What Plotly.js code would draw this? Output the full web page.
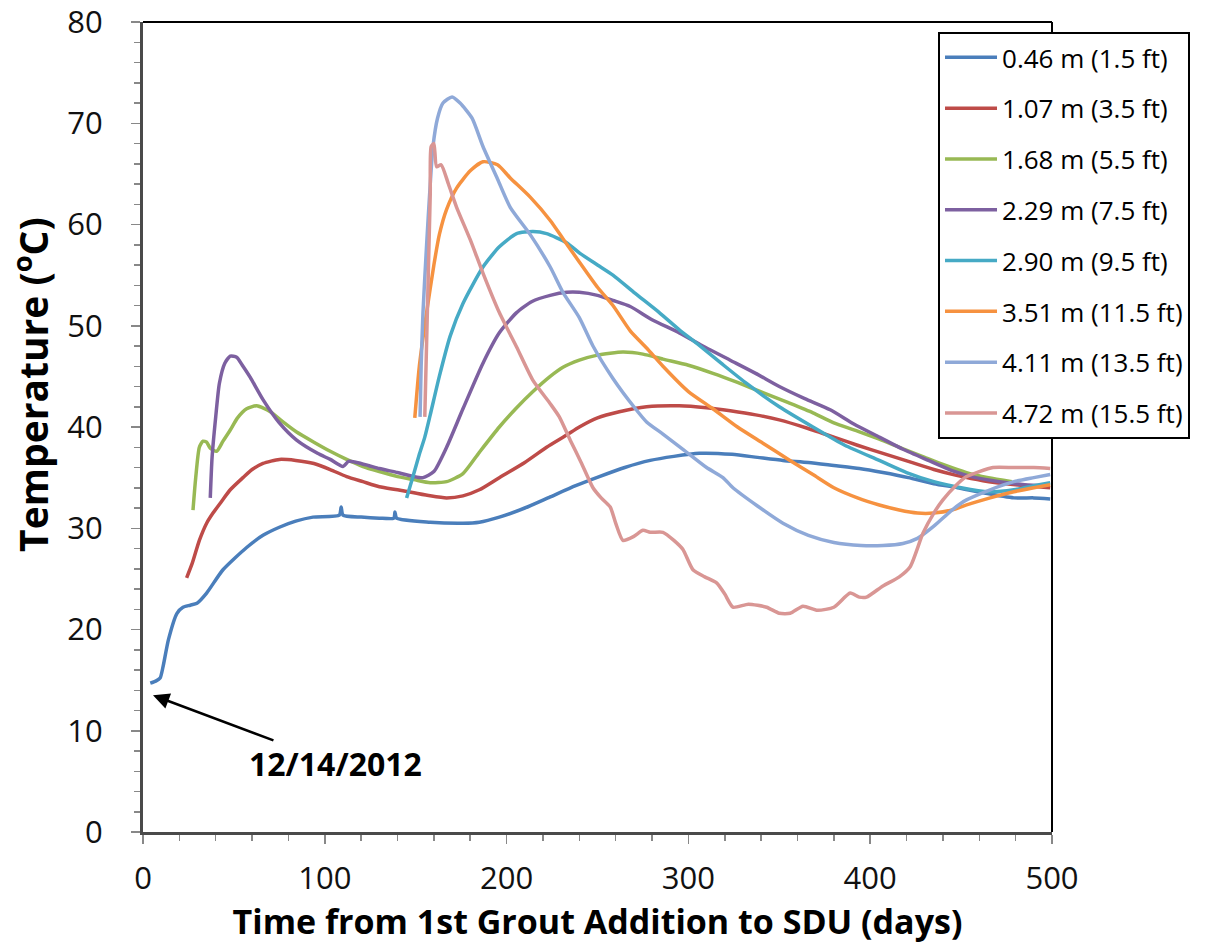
<!DOCTYPE html>
<html>
<head>
<meta charset="utf-8">
<script src="https://cdn.plot.ly/plotly-3.0.1.min.js"></script>
<style>html,body{margin:0;padding:0;background:#fff;}#chart{width:1220px;height:944px;}</style>
</head>
<body>
<div id="chart"></div>
<script>
// Series names
const seriesNames = ["0.46 m (1.5 ft)","1.07 m (3.5 ft)","1.68 m (5.5 ft)","2.29 m (7.5 ft)","2.90 m (9.5 ft)","3.51 m (11.5 ft)","4.11 m (13.5 ft)","4.72 m (15.5 ft)"];

// 0.46 m
const d046 = [4,7,9.4,11,14,18.7,22,26,29.7,35,44,57,66,75,84,93.5,108,109,110,120,130,138,138.6,139.5,158,176,185,196,210,224,238,251,265,279,292,306,324,338,352,366,380,394,407,421,435,448,462,479,490,499];
const t046 = [14.7,14.9,15.2,16.3,19,21.6,22.2,22.4,22.6,23.6,25.9,28.1,29.3,30.1,30.7,31.1,31.3,32.1,31.3,31.1,31.0,31.0,31.6,31.0,30.6,30.5,30.6,31.1,32.0,33.1,34.2,35.1,36.0,36.7,37.1,37.4,37.3,37.0,36.7,36.5,36.2,35.9,35.5,35.0,34.4,34.0,33.5,33.0,33.0,32.9];

// 1.07 m
const d107 = [24,27,31,35,38.5,43,48,55,60,66,75,84,94,103,112,121,130,140,149,158,167,176,185,196,210,222,233,240,250,262,277,295,310,323,337,350,365,380,393,407,421,435,448,462,480,499];
const t107 = [25.1,26.5,28.8,30.5,31.5,32.6,33.8,35.0,35.8,36.4,36.8,36.7,36.4,35.8,35.1,34.6,34.1,33.8,33.5,33.2,33.0,33.2,33.8,35.0,36.5,38.0,39.2,40.0,40.9,41.5,42.0,42.1,41.9,41.6,41.2,40.7,39.9,39.0,38.2,37.4,36.6,35.8,35.2,34.7,34.3,34.0];

// 1.68 m
const d168 = [27.5,29,31,33,35,37,40.5,44,48,52,57,62.5,70,77,84.5,94,103,112,121,130,140,149,158,167,176,185,196,205,214.5,224,231,240,250,264,275,286,300,313.5,327,341,355,368.5,380,393,405,416,430,440,453,465,478];
const t168 = [31.8,35,38.0,38.6,38.5,37.9,37.6,38.6,39.7,40.9,41.8,42.1,41.5,40.5,39.5,38.5,37.6,36.8,36.1,35.6,35.1,34.8,34.5,34.6,35.4,37.5,40.0,41.8,43.5,45.0,45.9,46.6,47.1,47.4,47.2,46.7,46.1,45.3,44.4,43.4,42.4,41.4,40.4,39.6,38.8,38.0,37.0,36.3,35.5,35.0,34.6];

// 2.29 m
const d229 = [37,38,40,42,45,48,51.5,55,59,66,75,84.5,96,103,110,113,117.5,124,130,140,149,154,160,167,176,187,196,205.5,214,224,233,240,250,258.5,268,280,295,309,323,337,350,364,378,391,405,418,432,445,458,471,485,497];
const t229 = [33.0,37,41,44.3,46.3,47.0,46.9,46.0,44.9,42.7,40.4,38.7,37.4,36.8,36.1,36.6,36.5,36.2,35.9,35.5,35.1,35.0,35.6,38.0,41.8,46.3,49.3,51.3,52.4,53.0,53.3,53.3,53.0,52.5,51.9,50.6,49.3,47.9,46.6,45.3,44.0,42.8,41.7,40.3,39.0,37.8,36.7,35.7,35.0,34.6,34.3,34.2];

// 2.90 m
const d290 = [145,148.5,152,155,158,163,169,176,187,196,205.5,214.5,222,233,240,250,258.5,270,284,295,305,318,332,350,368.5,386,405,420,435,450,465,479,490,499];
const t290 = [33.0,35.1,37.3,39.0,41.2,45.0,49.0,52.2,55.8,57.8,59.1,59.3,59.1,58.2,57.2,56.0,55.0,53.3,51.3,49.6,48.2,46.3,44.3,42.0,40.0,38.2,36.7,35.5,34.6,34.0,33.6,33.8,34.2,34.5];

// 3.51 m
const d351 = [149.5,152,156,160,163,167,172.5,180,187,195,202,213,224,231,240,250,258.5,268,277,286,300,313.5,327,341,355,368.5,380,393,405,416,426,435,445,453,466,479,490,499];
const t351 = [40.9,46,51.3,56.0,59.0,61.5,63.6,65.3,66.2,65.9,64.6,62.7,60.4,58.6,56.3,53.8,52.0,49.5,47.8,46.0,43.5,41.8,40.0,38.4,36.8,35.3,34.0,33.0,32.3,31.8,31.5,31.5,31.8,32.3,33.0,33.6,34.0,34.3];

// 4.11 m
const d411 = [152.4,153,154,156,158,159.5,162,165,170,174.4,181,187,195,202,213,224,231,240,247.5,258.5,270,277,286,297,310,319,324.5,338,352,366,380,395,407,418,426,435,445,453,466,479,490,499];
const t411 = [41.0,46,51.3,58,64,67.7,70.5,72.0,72.6,72.0,70.5,67.7,64.5,61.7,59.0,55.8,53.3,50.8,48.0,44.8,42.0,40.5,39.3,37.8,36.0,35.0,34.0,32.2,30.5,29.3,28.6,28.3,28.3,28.5,29.0,30.2,31.8,32.8,33.8,34.6,35.0,35.3];

// 4.72 m
const d472 = [155,156.5,158,158.5,160,161.5,164,168,172.5,180,187,196,205.5,214.5,224,229,235,241,247.5,252,257,260,264,270,275,279,286,292,297,302.5,309,315.5,320,324.5,333,343,350,356,363,371,380,389,394,398,407,416,422,429,435,440,447,453,460,467.5,479,490,499];
const t472 = [41.0,52,63,67.7,68.0,65.7,65.9,64.0,61.7,58.5,55.2,51.3,47.9,44.6,42.3,41.0,38.7,36.5,34.0,33.0,32.1,30.5,28.8,29.2,29.8,29.6,29.6,28.8,27.9,25.9,25.2,24.6,23.5,22.2,22.5,22.2,21.6,21.6,22.3,21.9,22.2,23.6,23.2,23.2,24.3,25.2,26.2,29.5,31.5,32.8,34.2,35.1,35.6,36.0,36.0,36.0,35.9];

// Axis tick values
const xTicks = [0,100,200,300,400,500];
const yTicks = [0,10,20,30,40,50,60,70,80];

const xs = [d046,d107,d168,d229,d290,d351,d411,d472];
const ys = [t046,t107,t168,t229,t290,t351,t411,t472];
const colors = ["#4A7EBB","#BE4B48","#98B954","#7D60A0","#46AAC5","#F69240","#8FA9D8","#D99694"];

const traces = seriesNames.map((n,i)=>({
  x: xs[i], y: ys[i], name: n, type: "scatter", mode: "lines",
  legendgroup: "g"+i,
  line: {color: colors[i], width: 3.5, shape: "spline", smoothing: 0.6}
}));

const FONT = "Open Sans, Liberation Sans, sans-serif";

const layout = {
  width: 1220, height: 944,
  margin: {l:143, r:168, t:22, b:112},
  paper_bgcolor: "#fff", plot_bgcolor: "#fff",
  font: {family: FONT, color: "#000"},
  showlegend: true,
  legend: {
    x: 0.8746, y: 0.9877, xanchor: "left", yanchor: "top",
    bgcolor: "#fff", bordercolor: "#000", borderwidth: 2,
    font: {family: FONT, size: 26, color: "#000"},
    tracegroupgap: 14, itemwidth: 52
  },
  xaxis: {
    range: [0,500], tickmode: "array", tickvals: xTicks, ticktext: xTicks.map(String),
    ticks: "outside", ticklen: 9, tickcolor: "#888", tickwidth: 1.5,
    minor: {dtick: 20, tick0: 0, ticks: "outside", ticklen: 6, tickcolor: "#888"},
    showline: true, linecolor: "#4a4a4a", linewidth: 3,
    showgrid: false, zeroline: false,
    ticklabelstandoff: 8, ticklabeloverflow: "allow",
    tickfont: {family: FONT, size: 31, color: "#111"},
    title: {text: "<b>Time from 1st Grout Addition to SDU (days)</b>", font: {family: FONT, size: 34, color: "#000"}, standoff: 6}
  },
  yaxis: {
    range: [0,80], tickmode: "array", tickvals: yTicks, ticktext: yTicks.map(String),
    ticks: "outside", ticklen: 9, tickcolor: "#888", tickwidth: 1.5,
    minor: {dtick: 2, tick0: 0, ticks: "outside", ticklen: 6, tickcolor: "#888"},
    showline: true, linecolor: "#4a4a4a", linewidth: 3,
    showgrid: false, zeroline: false,
    ticklabelstandoff: 22, ticklabeloverflow: "allow",
    tickfont: {family: FONT, size: 31, color: "#111"}
  },
  shapes: [
    {type: "line", xref: "paper", yref: "paper", x0: 0, x1: 1, y0: 1, y1: 1, line: {color: "#000", width: 2}},
    {type: "line", xref: "paper", yref: "paper", x0: 1, x1: 1, y0: 0, y1: 1, line: {color: "#000", width: 2}}
  ],
  annotations: [{
    x: 5.5, y: 13.5, xref: "x", yref: "y",
    text: "<b>12/14/2012</b>", showarrow: true,
    ax: 182, ay: 68, axref: "pixel", ayref: "pixel",
    arrowhead: 2, arrowsize: 1.3, arrowwidth: 2.5, arrowcolor: "#000",
    font: {family: FONT, size: 32, color: "#000"}
  }, {
    xref: "paper", yref: "paper", x: 0, y: 0.552, xshift: -112,
    xanchor: "center", yanchor: "middle", textangle: -90, showarrow: false,
    text: "<b>Temperature (<sup>o</sup>C)</b>",
    font: {family: FONT, size: 39, color: "#000"}
  }]
};

Plotly.newPlot("chart", traces, layout, {displayModeBar: false, staticPlot: true});
</script>
</body>
</html>
